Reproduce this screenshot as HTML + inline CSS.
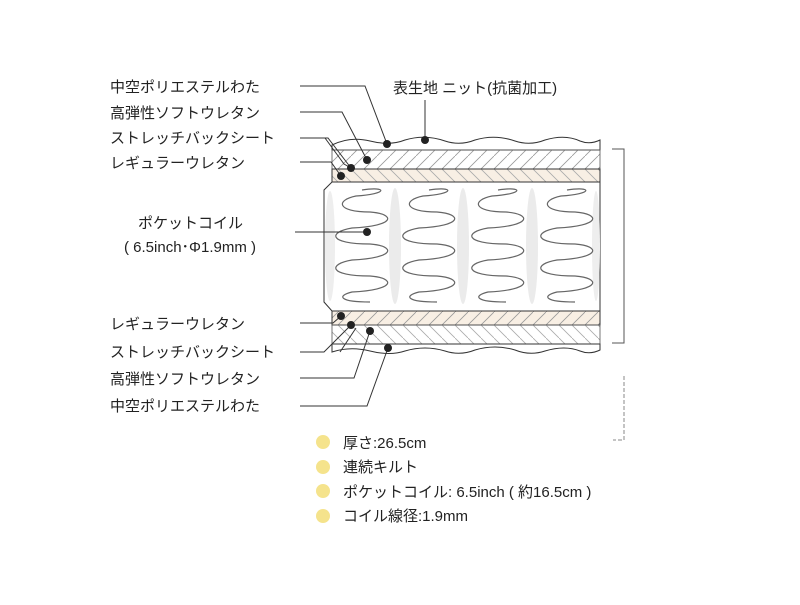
<!DOCTYPE html>
<html><head><meta charset="utf-8"><style>
body{margin:0;background:#fff}
svg text{font-family:"Liberation Sans","Noto Sans CJK JP",sans-serif;font-size:15px;fill:#222}
</style></head><body>
<svg width="800" height="600" viewBox="0 0 800 600" xmlns="http://www.w3.org/2000/svg">
<defs>
<pattern id="hf" width="13" height="13" patternUnits="userSpaceOnUse"><path d="M0 13L13 0" stroke="#999" stroke-width="0.8"/></pattern>
<pattern id="hb" width="13" height="13" patternUnits="userSpaceOnUse"><path d="M0 0L13 13" stroke="#aaa" stroke-width="0.8"/></pattern>
<path id="coil" d="M0 0 C26 -4 26 4 -6 6 C-26 10 -26 22 8 22 C34 24 34 36 -10 38 C-34 42 -34 54 8 54 C34 56 34 68 -10 70 C-34 74 -34 86 8 86 C34 88 34 100 -10 102 C-26 106 -22 112 8 112" fill="none" stroke="#666" stroke-width="1.2"/>
</defs>
<path d="M332 145 Q350 136 370 141 Q390 146 405 140 Q425 134 445 141 Q460 146 475 140 Q495 134 515 141 Q530 146 545 140 Q565 134 580 141 Q590 145 600 140 L600 150 L332 150 Z" fill="#fff" stroke="#333" stroke-width="1"/>
<rect x="332" y="150" width="268" height="19" fill="url(#hf)" stroke="#555" stroke-width="0.8"/>
<rect x="332" y="169" width="268" height="13" fill="#f8efe4"/>
<rect x="332" y="169" width="268" height="13" fill="url(#hb)" stroke="#333" stroke-width="1"/>
<path d="M332 182 L600 182 L600 311 L332 311 L324 302 L324 190 Z" fill="#fff" stroke="#333" stroke-width="1"/>
<ellipse cx="330" cy="246" rx="5" ry="55" fill="#eee"/>
<ellipse cx="395" cy="246" rx="6" ry="58" fill="#ebebeb"/>
<ellipse cx="463" cy="246" rx="6" ry="58" fill="#ebebeb"/>
<ellipse cx="532" cy="246" rx="6" ry="58" fill="#ebebeb"/>
<ellipse cx="596" cy="246" rx="4" ry="55" fill="#eee"/>
<use href="#coil" x="362" y="190"/>
<use href="#coil" x="429" y="190"/>
<use href="#coil" x="498" y="190"/>
<use href="#coil" x="567" y="190"/>
<rect x="332" y="311" width="268" height="14" fill="#f8efe4"/>
<rect x="332" y="311" width="268" height="14" fill="url(#hf)" stroke="#333" stroke-width="1"/>
<rect x="332" y="325" width="268" height="19" fill="url(#hb)" stroke="#555" stroke-width="0.8"/>
<path d="M332 344 L600 344 L600 350 Q590 355 580 351 Q565 345 545 351 Q530 356 515 350 Q495 344 475 350 Q460 356 445 351 Q425 345 405 351 Q390 356 370 351 Q350 346 332 352 Z" fill="#fff" stroke="#333" stroke-width="1"/>
<path d="M612 149 L624 149 L624 343 L612 343" fill="none" stroke="#555" stroke-width="1"/>
<path d="M624 376 L624 440 L613 440" fill="none" stroke="#888" stroke-width="1" stroke-dasharray="4 2"/>
<g stroke="#333" stroke-width="1" fill="none">
<path d="M300 86 L365 86 L387 144"/>
<path d="M300 112 L342 112 L367 160"/>
<path d="M300 138 L328 138 L351 168 M325 138 L344 164 L351 168"/>
<path d="M300 162 L331 162 L341 176"/>
<path d="M425 100 L425 140"/>
<path d="M295 232 L367 232"/>
<path d="M300 323 L333 323 L341 316"/>
<path d="M300 352 L324 352 L351 325 M340 352 L356 328"/>
<path d="M300 378 L354 378 L370 331"/>
<path d="M300 406 L367 406 L388 348"/>
</g>
<g fill="#222">
<circle cx="387" cy="144" r="4"/><circle cx="367" cy="160" r="4"/><circle cx="351" cy="168" r="4"/><circle cx="341" cy="176" r="4"/>
<circle cx="425" cy="140" r="4"/><circle cx="367" cy="232" r="4"/>
<circle cx="341" cy="316" r="4"/><circle cx="351" cy="325" r="4"/><circle cx="370" cy="331" r="4"/><circle cx="388" cy="348" r="4"/>
</g>
<text x="110" y="92">中空ポリエステルわた</text>
<text x="110" y="118">高弾性ソフトウレタン</text>
<text x="110" y="143">ストレッチバックシート</text>
<text x="110" y="168">レギュラーウレタン</text>
<text x="393" y="93">表生地 ニット(抗菌加工)</text>
<text x="138" y="228">ポケットコイル</text>
<text x="124" y="252">( 6.5inch･Φ1.9mm )</text>
<text x="110" y="329">レギュラーウレタン</text>
<text x="110" y="357">ストレッチバックシート</text>
<text x="110" y="384">高弾性ソフトウレタン</text>
<text x="110" y="411">中空ポリエステルわた</text>
<g fill="#f5e38c">
<circle cx="323" cy="442" r="7"/><circle cx="323" cy="467" r="7"/><circle cx="323" cy="491" r="7"/><circle cx="323" cy="516" r="7"/>
</g>
<text x="343" y="448">厚さ:26.5cm</text>
<text x="343" y="472">連続キルト</text>
<text x="343" y="497">ポケットコイル: 6.5inch ( 約16.5cm )</text>
<text x="343" y="521">コイル線径:1.9mm</text>
</svg>
</body></html>
